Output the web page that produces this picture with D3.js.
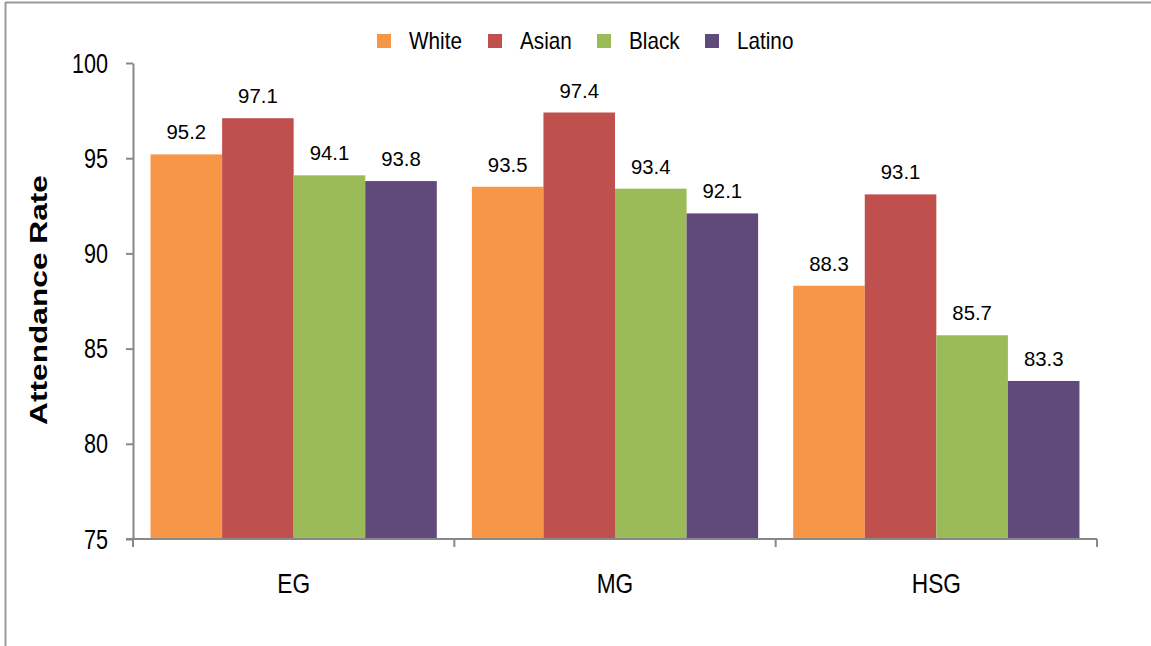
<!DOCTYPE html>
<html><head><meta charset="utf-8">
<script src="https://cdn.jsdelivr.net/npm/d3@7"></script>
<style>body{margin:0;background:#fff}svg{display:block;font-family:"Liberation Sans",Arial,sans-serif}</style>
</head><body><svg id="c" width="1151" height="646"></svg>
<script>
const categories = ["EG","MG","HSG"];
const seriesNames = ["White","Asian","Black","Latino"];
const seriesColors = ["#F79646","#C0504D","#9BBB59","#604A7B"];
const white = [95.2, 93.5, 88.3];
const asian = [97.1, 97.4, 93.1];
const black = [94.1, 93.4, 85.7];
const latino = [93.8, 92.1, 83.3];
const yTicks = [75,80,85,90,95,100];
const values = [white, asian, black, latino];

const svg = d3.select("#c");
const m = {left:133, right:1097, top:63, bottom:539};
// frame
svg.append("line").attr("x1",5.5).attr("x2",1151).attr("y1",2.5).attr("y2",2.5).attr("stroke","#999").attr("stroke-width",2);
svg.append("line").attr("x1",5.5).attr("x2",5.5).attr("y1",2).attr("y2",646).attr("stroke","#999").attr("stroke-width",2);

const x0 = d3.scaleBand().domain(categories).range([m.left,m.right]).paddingInner(0).paddingOuter(0);
const x1 = d3.scaleBand().domain(seriesNames).range([0,x0.bandwidth()]).paddingOuter(0.245).paddingInner(0);
const y = d3.scaleLinear().domain([75,100]).range([m.bottom,m.top]);

function stxt(x, yy, sx, size, anchor, str, weight){
  return svg.append("text").attr("transform",`translate(${x},${yy}) scale(${sx},1)`)
    .attr("text-anchor",anchor).attr("font-size",size).attr("font-weight",weight||"normal")
    .attr("fill","#000").text(str);
}

// bars
categories.forEach((c,ci)=>{
  seriesNames.forEach((s,si)=>{
    const v = values[si][ci];
    const bx = x0(c)+x1(s);
    svg.append("rect").attr("x",bx).attr("y",y(v)).attr("width",x1.bandwidth()).attr("height",y(75)-y(v)).attr("fill",seriesColors[si]);
    stxt(bx+x1.bandwidth()/2, y(v)-15, 0.97, 21, "middle", v.toFixed(1));
  });
});

// y axis
const ya = svg.append("g").attr("transform",`translate(${m.left},0)`)
  .call(d3.axisLeft(y).tickValues(yTicks).tickSize(7).tickSizeOuter(0));
ya.select(".domain").attr("stroke","#888").attr("stroke-width",2);
ya.selectAll(".tick line").attr("stroke","#888").attr("stroke-width",2);
ya.selectAll(".tick text").remove();
yTicks.forEach(t=>{
  stxt(m.left-25, y(t)+9.5, 0.8, 27, "end", String(t));
});

// x axis
const xa = svg.append("g").attr("transform",`translate(0,${m.bottom})`);
xa.append("line").attr("x1",m.left-7).attr("x2",m.right).attr("y1",0).attr("y2",0).attr("stroke","#888").attr("stroke-width",2);
const bounds = categories.map(c=>x0(c)).concat([x0(categories[categories.length-1])+x0.bandwidth()]);
bounds.forEach(b=>{
  xa.append("line").attr("x1",b).attr("x2",b).attr("y1",0).attr("y2",8).attr("stroke","#888").attr("stroke-width",2);
});
categories.forEach(c=>{
  stxt(x0(c)+x0.bandwidth()/2, 593, 0.81, 28, "middle", c);
});

// y label
svg.append("text").attr("transform","translate(47,300) rotate(-90) scale(1.32,1)").attr("text-anchor","middle")
  .attr("font-size",24).attr("font-weight","bold").attr("fill","#000").text("Attendance Rate");

// legend
const legX = [377,488,597,705];
seriesNames.forEach((s,i)=>{
  svg.append("rect").attr("x",legX[i]).attr("y",34).attr("width",14).attr("height",14).attr("fill",seriesColors[i]);
  stxt(legX[i]+32, 49, 0.9, 23, "start", s);
});
</script></body></html>
